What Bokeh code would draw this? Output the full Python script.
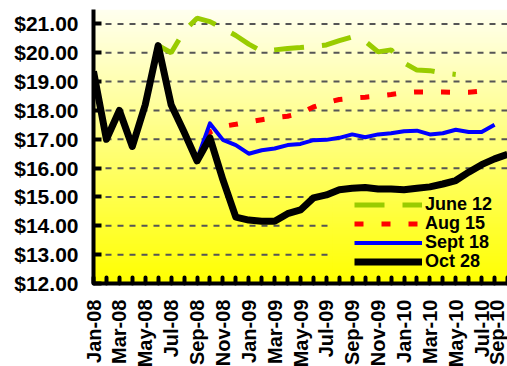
import math
import numpy as np
from bokeh.plotting import figure
from bokeh.models import Range1d, FixedTicker, NumeralTickFormatter, Legend, LegendItem
from bokeh.embed import file_html
from bokeh.resources import INLINE

# ---------------- data ----------------
months = ["Jan-08", "Feb-08", "Mar-08", "Apr-08", "May-08", "Jun-08", "Jul-08", "Aug-08",
          "Sep-08", "Oct-08", "Nov-08", "Dec-08", "Jan-09", "Feb-09", "Mar-09", "Apr-09",
          "May-09", "Jun-09", "Jul-09", "Aug-09", "Sep-09", "Oct-09", "Nov-09", "Dec-09",
          "Jan-10", "Feb-10", "Mar-10", "Apr-10", "May-10", "Jun-10", "Jul-10", "Aug-10",
          "Sep-10"]

oct28 = [19.35, 17.0, 18.0, 16.75, 18.2, 20.25, 18.2, 17.25, 16.25, 17.05, 15.6, 14.3,
         14.2, 14.16, 14.16, 14.42, 14.55, 14.97, 15.07, 15.25, 15.3, 15.33, 15.28, 15.28,
         15.25, 15.3, 15.35, 15.45, 15.57, 15.86, 16.12, 16.32, 16.48]

sept18_start = "Sep-08"
sept18 = [16.3, 17.55, 16.98, 16.8, 16.5, 16.62, 16.68, 16.8, 16.84, 16.97, 16.98, 17.05,
          17.17, 17.07, 17.17, 17.21, 17.28, 17.3, 17.17, 17.21, 17.33, 17.25, 17.25, 17.5]

aug15_start = "Aug-08"
aug15 = [17.25, 16.3, 17.25, 17.45, 17.52, 17.6, 17.68, 17.75, 17.8, 17.9, 18.12, 18.27,
         18.38, 18.43, 18.46, 18.5, 18.55, 18.62, 18.64, 18.64, 18.64, 18.63, 18.63, 18.67]

june12_start = "Jun-08"
june12 = [20.25, 20.0, 20.75, 21.2, 21.08, 20.85, 20.6, 20.3, 20.05, 20.1, 20.15, 20.18,
          20.22, 20.27, 20.42, 20.55, 20.4, 20.03, 20.1, 19.65, 19.4, 19.38, 19.3, 19.25]

y_ticks = [12, 13, 14, 15, 16, 17, 18, 19, 20, 21]

FONT = "Liberation Sans"
Y_MIN, Y_MAX = 12, 21.5
X_END = len(months) - 1

p = figure(frame_width=414, frame_height=274,
           min_border_left=93, min_border_right=0, min_border_top=9, min_border_bottom=0,
           x_range=Range1d(0, X_END), y_range=Range1d(Y_MIN, Y_MAX),
           output_backend="svg", toolbar_location=None)
p.outline_line_color = None
p.background_fill_color = "white"
p.border_fill_color = "white"


def grad_color(yv):
    t = (yv - Y_MIN) / (Y_MAX - Y_MIN)
    b = int(round(max(0.0, min(1.0, t)) * 240))
    return "#FFFF%02X" % b


def gradient_strips(x0, x1, y0, y1, step=0.05):
    bottoms = np.arange(y0, y1 - 1e-9, step)
    tops = np.minimum(bottoms + step * 1.6, y1)
    cols = [grad_color(b + step / 2) for b in bottoms]
    p.quad(left=x0, right=x1, bottom=bottoms, top=tops, fill_color=cols, line_color=None)

# plot-area gradient
gradient_strips(0, X_END, Y_MIN, Y_MAX)

# dashed gridlines (under the series)
grid_y = [float(v) for v in y_ticks[1:]]
p.segment(x0=[0.0] * len(grid_y), x1=[float(X_END)] * len(grid_y), y0=grid_y, y1=grid_y,
          line_color="#555555", line_width=2, line_dash="dashed")

# legend box backdrop (hides gridlines behind legend, like the original)
gradient_strips(X_END - 13.5, X_END, Y_MIN, Y_MIN + 3.5)

idx = {m: i for i, m in enumerate(months)}


def xs_for(start, vals):
    s = idx[start]
    return list(range(s, s + len(vals)))

r_j = p.line(xs_for(june12_start, june12), june12, line_color="#99CC00", line_width=5,
             line_dash="30 18")
r_a = p.line(xs_for(aug15_start, aug15), aug15, line_color="#FF0000", line_width=5,
             line_dash="9 18")
r_s = p.line(xs_for(sept18_start, sept18), sept18, line_color="#0000FF", line_width=4,
             line_join="round")
r_o = p.line(list(range(len(months))), oct28, line_color="black", line_width=7,
             line_join="round")

p.xgrid.visible = False
p.ygrid.visible = False

# y axis
ya = p.yaxis[0]
ya.ticker = FixedTicker(ticks=y_ticks)
ya.formatter = NumeralTickFormatter(format="$0.00")
ya.axis_line_width = 4
ya.axis_line_color = "black"
ya.major_tick_line_width = 4
ya.major_tick_in = 8
ya.major_tick_out = 0
ya.minor_tick_line_color = None
ya.major_label_standoff = 15
ya.major_label_text_font = FONT
ya.major_label_text_font_style = "bold"
ya.major_label_text_font_size = "21px"
ya.major_label_text_color = "black"

# x axis
xa = p.xaxis[0]
xa.ticker = FixedTicker(ticks=list(range(len(months))))
xa.major_label_overrides = {i: (m if i % 2 == 0 else "") for i, m in enumerate(months)}
xa.major_label_orientation = math.pi / 2
xa.axis_line_width = 4
xa.axis_line_color = "black"
xa.major_tick_line_width = 4
xa.major_tick_line_cap = "round"
xa.major_tick_in = 6
xa.major_tick_out = 0
xa.minor_tick_line_color = None
xa.major_label_standoff = 16
xa.major_label_text_font = FONT
xa.major_label_text_font_style = "bold"
xa.major_label_text_font_size = "20px"
xa.major_label_text_color = "black"

# legend: one row per Legend so the row pitch matches the original
legend_rows = [("June 12", r_j), ("Aug 15", r_a), ("Sept 18", r_s), ("Oct 28", r_o)]
for k, (lab, rend) in enumerate(legend_rows):
    lg = Legend(items=[LegendItem(label=lab, renderers=[rend])],
                location=(261, 11 + 19 * (len(legend_rows) - 1 - k)),
                background_fill_alpha=0, border_line_alpha=0,
                padding=0, margin=0, spacing=0, glyph_width=68, glyph_height=19,
                label_height=19, label_standoff=3, label_text_font=FONT,
                label_text_font_style="bold", label_text_font_size="18px",
                label_text_color="black")
    p.add_layout(lg)

open("out.html", "w").write(file_html(p, INLINE))
